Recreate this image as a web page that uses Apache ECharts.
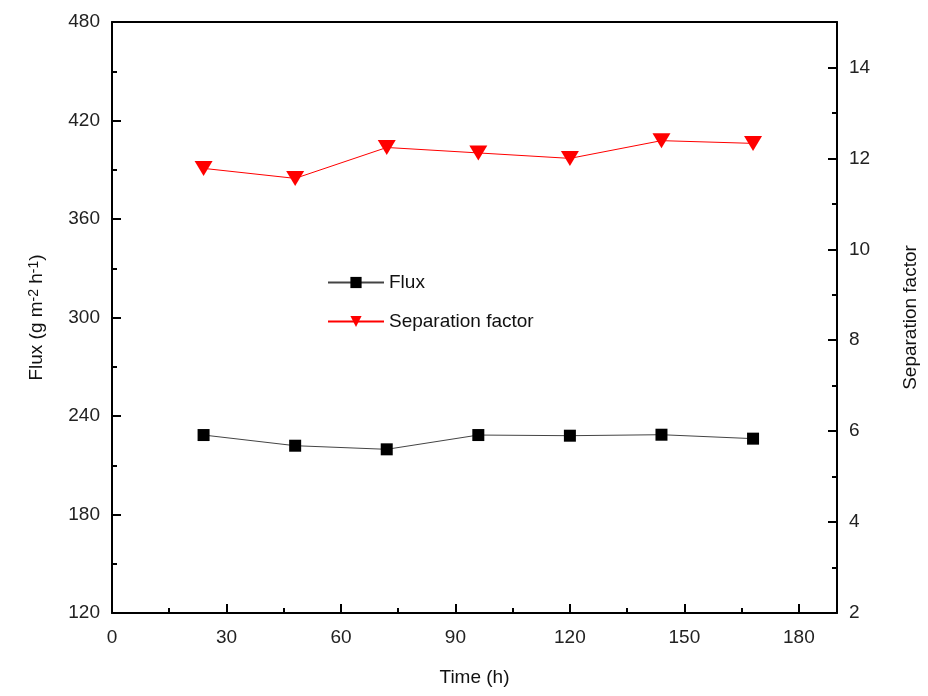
<!DOCTYPE html>
<html>
<head>
<meta charset="utf-8">
<script src="https://cdn.jsdelivr.net/npm/echarts@6/dist/echarts.min.js"></script>
<style>html,body{margin:0;padding:0;background:#fff}#c{width:928px;height:696px}</style>
</head>
<body>
<div id="c"></div>
<script>
var timeH = [24, 48, 72, 96, 120, 144, 168];
var fluxValues = [228.4, 221.9, 219.7, 228.4, 228.0, 228.6, 226.2];
var sepValues = [11.78, 11.56, 12.24, 12.12, 12.0, 12.39, 12.33];
var xTicks = [0, 30, 60, 90, 120, 150, 180];
var fluxTicks = [120, 180, 240, 300, 360, 420, 480];
var sepTicks = [2, 4, 6, 8, 10, 12, 14];

var FONT = 'Liberation Sans, Arial, sans-serif';
var chart = echarts.init(document.getElementById('c'));
var axisLine = {show: true, onZero: false, lineStyle: {color: '#000', width: 2}};
var tick = {show: true, inside: true, length: 9, lineStyle: {color: '#000', width: 2}};
var minor = {show: true, splitNumber: 2, length: 5, lineStyle: {color: '#000', width: 2}};
chart.setOption({
  animation: false,
  backgroundColor: '#fff',
  grid: {left: 112, right: 88, top: 22, bottom: 83, containLabel: false},
  legend: {
    orient: 'vertical', left: 322, top: 268, itemGap: 20,
    itemWidth: 56, itemHeight: 14,
    textStyle: {fontFamily: FONT, fontSize: 19, color: '#111'},
    data: [
      {name: 'Flux', itemStyle: {color: '#000'}, symbolSize: 10},
      {name: 'Separation factor'}
    ]
  },
  xAxis: [{
    type: 'value', min: 0, max: 190, interval: 30,
    name: 'Time (h)', nameLocation: 'middle', nameGap: 55,
    nameTextStyle: {fontFamily: FONT, fontSize: 19, color: '#111'},
    axisLine: axisLine, axisTick: tick, minorTick: minor,
    splitLine: {show: false},
    axisLabel: {fontFamily: FONT, fontSize: 19, color: '#222', margin: 15,
      formatter: function (v) { return xTicks.indexOf(v) >= 0 ? String(v) : ''; }}
  }, {
    type: 'value', position: 'top', min: 0, max: 190,
    axisLine: axisLine, axisTick: {show: false}, axisLabel: {show: false}, splitLine: {show: false}
  }],
  yAxis: [{
    type: 'value', min: 120, max: 480, interval: 60, position: 'left',
    name: 'Flux (g m{sup|-2} h{sup|-1})', nameLocation: 'middle', nameGap: 66, nameRotate: 90,
    nameTextStyle: {fontFamily: FONT, fontSize: 19, color: '#111',
      rich: {sup: {fontFamily: FONT, fontSize: 14, color: '#111', verticalAlign: 'top', lineHeight: 14}}},
    axisLine: axisLine, axisTick: tick, minorTick: minor,
    splitLine: {show: false},
    axisLabel: {fontFamily: FONT, fontSize: 19, color: '#222', margin: 12,
      formatter: function (v) { return fluxTicks.indexOf(v) >= 0 ? String(v) : ''; }}
  }, {
    type: 'value', min: 2, max: 15, interval: 2, position: 'right',
    name: 'Separation factor', nameLocation: 'middle', nameGap: 64, nameRotate: 90,
    nameTextStyle: {fontFamily: FONT, fontSize: 19, color: '#111'},
    axisLine: axisLine, axisTick: tick, minorTick: minor,
    splitLine: {show: false},
    axisLabel: {fontFamily: FONT, fontSize: 19, color: '#222', margin: 12,
      formatter: function (v) { return sepTicks.indexOf(v) >= 0 ? String(v) : ''; }}
  }],
  series: [{
    name: 'Flux', type: 'line', xAxisIndex: 0, yAxisIndex: 0,
    data: timeH.map(function (t, i) { return [t, fluxValues[i]]; }),
    symbol: 'rect', symbolSize: 12,
    itemStyle: {color: '#000'},
    lineStyle: {color: '#444', width: 1}
  }, {
    name: 'Separation factor', type: 'line', xAxisIndex: 0, yAxisIndex: 1,
    data: timeH.map(function (t, i) { return [t, sepValues[i]]; }),
    symbol: 'triangle', symbolRotate: 180, symbolSize: [18, 15],
    itemStyle: {color: '#f00'},
    lineStyle: {color: '#f00', width: 1}
  }]
});
</script>
</body>
</html>
